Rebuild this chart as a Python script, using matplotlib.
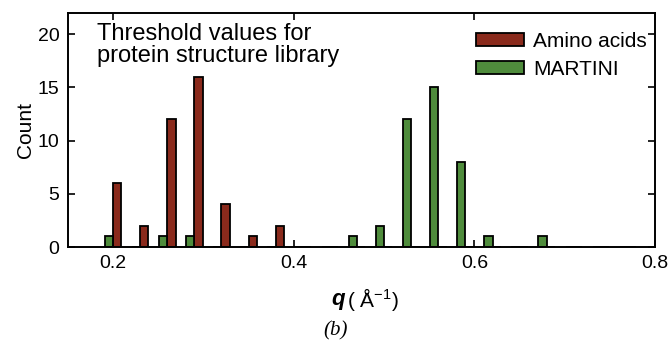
import numpy as np
import matplotlib
matplotlib.use("Agg")
import matplotlib.pyplot as plt

plt.rcParams['font.family'] = ['Liberation Sans', 'DejaVu Sans']
plt.rcParams['mathtext.fontset'] = 'custom'
plt.rcParams['mathtext.rm'] = 'Liberation Sans'
plt.rcParams['mathtext.it'] = 'Liberation Sans:italic'
plt.rcParams['mathtext.bf'] = 'Liberation Sans:bold'

# --- histogram counts per q bin (Å^-1) ---
q_bins = [0.20, 0.23, 0.26, 0.29, 0.32, 0.35, 0.38, 0.41, 0.44, 0.47,
          0.50, 0.53, 0.56, 0.59, 0.62, 0.65, 0.68, 0.71, 0.74, 0.77]
amino_counts = [6, 2, 12, 16, 4, 1, 2, 0, 0, 0,
                0, 0, 0, 0, 0, 0, 0, 0, 0, 0]
martini_counts = [1, 0, 1, 1, 0, 0, 0, 0, 0, 1,
                  2, 12, 15, 8, 1, 0, 1, 0, 0, 0]
x_ticks = [0.2, 0.4, 0.6, 0.8]
y_ticks = [0, 5, 10, 15, 20]

red = "#8a2a1c"
green = "#4f8c3c"

fig = plt.figure(figsize=(6.72, 3.48), dpi=100)
ax = fig.add_axes([0.101, 0.290, 0.874, 0.673])

q = np.array(q_bins)
w = 0.0092
ax.bar(q + w / 2, amino_counts, width=w, color=red, edgecolor="black",
       linewidth=1.3, label="Amino acids")
ax.bar(q - w / 2, martini_counts, width=w, color=green, edgecolor="black",
       linewidth=1.3, label="MARTINI")

ax.set_xlim(0.15, 0.8)
ax.set_ylim(0, 22)
ax.set_xticks(x_ticks)
ax.set_xticklabels(["0.2", "0.4", "0.6", "0.8"])
ax.set_yticks(y_ticks)
ax.tick_params(direction="in", length=5, width=1.2, top=True, right=True,
               labelsize=14, pad=6)
for s in ax.spines.values():
    s.set_linewidth(1.4)

ax.set_ylabel("Count", fontsize=15, labelpad=2)

ax.text(0.049, 0.955, "Threshold values for\nprotein structure library",
        transform=ax.transAxes, ha="left", va="top", fontsize=17,
        linespacing=0.98)

ax.legend(loc="upper right", frameon=False, fontsize=15,
          handlelength=2.3, handleheight=0.55, handletextpad=0.45,
          labelspacing=0.45, borderaxespad=0.0,
          bbox_to_anchor=(1.0, 0.955))

# x label: bold italic q followed by unit
fig.text(0.514, 0.138, "q", fontsize=16, fontweight="bold", style="italic",
         ha="right", va="center")
fig.text(0.517, 0.138, "( Å$^{-1}$)", fontsize=15, ha="left", va="center")

fig.text(0.5, 0.05, "(b)", fontsize=15, family="Liberation Serif",
         style="italic", ha="center", va="center")

fig.savefig("out.png", dpi=100)
